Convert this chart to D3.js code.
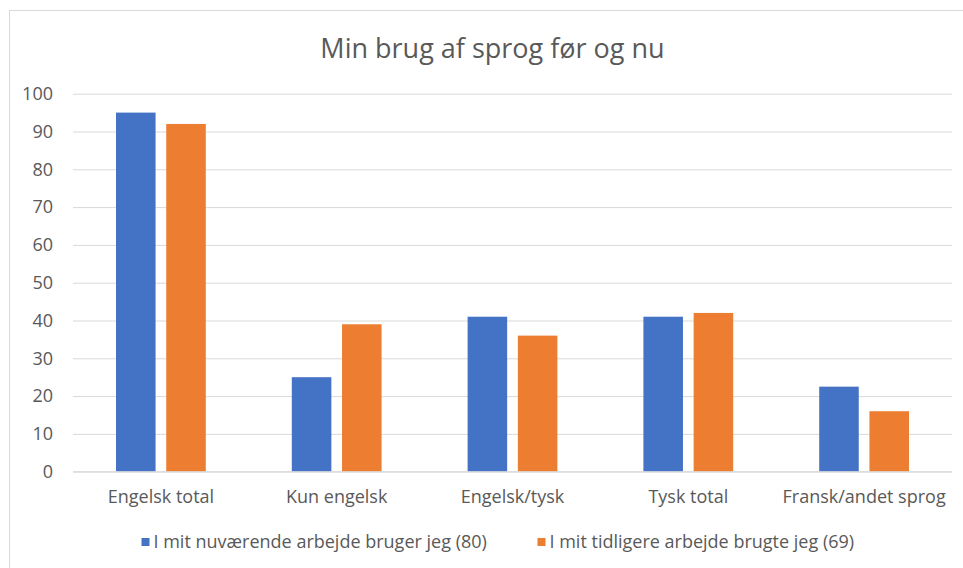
<!DOCTYPE html>
<html>
<head>
<meta charset="utf-8">
<script src="https://cdn.jsdelivr.net/npm/d3@7"></script>
<style>
  html, body { margin: 0; padding: 0; background: #fff; }
  svg { display: block; }
  text { font-family: "Open Sans", "Noto Sans", sans-serif; fill: #595959; }
</style>
</head>
<body>
<script>
const title = "Min brug af sprog før og nu";
const categories = ["Engelsk total", "Kun engelsk", "Engelsk/tysk", "Tysk total", "Fransk/andet sprog"];
const seriesNames = ["I mit nuværende arbejde bruger jeg (80)", "I mit tidligere arbejde brugte jeg (69)"];
const currentValues = [95, 25, 41, 41, 22.5];
const previousValues = [92, 39, 36, 42, 16];
const yTicks = [0, 10, 20, 30, 40, 50, 60, 70, 80, 90, 100];
const colors = ["#4472C4", "#ED7D31"];

const W = 963, H = 568;
const FONT = "'Open Sans', 'Noto Sans', sans-serif";
const svg = d3.select("body").append("svg").attr("width", W).attr("height", H);

// chart area border
svg.append("rect")
  .attr("x", 9.5).attr("y", 10.5)
  .attr("width", W + 20).attr("height", H + 20)
  .attr("fill", "none").attr("stroke", "#d9d9d9").attr("stroke-width", 1);

const plot = { left: 73, right: 952, top: 93.7, bottom: 471.7 };

const x0 = d3.scaleBand().domain(categories).range([plot.left, plot.right]).paddingInner(0).paddingOuter(0);
const y = d3.scaleLinear().domain([0, 100]).range([plot.bottom, plot.top]);

const barW = x0.bandwidth() * 0.225;
const gap = barW * 0.27;
const x1 = d3.scaleOrdinal().domain([0, 1]).range([-(gap / 2 + barW), gap / 2]);

// gridlines + y labels
const yAxis = d3.axisLeft(y).tickValues(yTicks).tickSize(-(plot.right - plot.left)).tickPadding(20);
const gy = svg.append("g").attr("transform", `translate(${plot.left},0)`).call(yAxis);
gy.select(".domain").remove();
gy.selectAll(".tick line").attr("stroke", "#d9d9d9").attr("stroke-width", 1);
gy.selectAll(".tick text").attr("font-size", 18).attr("fill", "#595959").style("font-family", FONT);

// bars
const series = [currentValues, previousValues];
series.forEach((vals, si) => {
  svg.append("g").selectAll("rect").data(vals).join("rect")
    .attr("x", (d, i) => x0(categories[i]) + x0.bandwidth() / 2 + x1(si))
    .attr("y", d => y(d))
    .attr("width", barW)
    .attr("height", d => y(0) - y(d))
    .attr("fill", colors[si]);
});

// x axis labels
const xAxis = d3.axisBottom(x0).tickSize(0).tickPadding(19);
const gx = svg.append("g").attr("transform", `translate(0,${plot.bottom})`).call(xAxis);
gx.select(".domain").remove();
gx.selectAll(".tick text").attr("font-size", 18).attr("fill", "#595959").style("font-family", FONT);

// zero line on top
svg.append("line").attr("x1", plot.left).attr("x2", plot.right)
  .attr("y1", y(0)).attr("y2", y(0)).attr("stroke", "#d9d9d9").attr("stroke-width", 1);

// title
svg.append("text").attr("x", 492.5).attr("y", 58).attr("text-anchor", "middle")
  .attr("font-size", 27).text(title);

// legend
const legendX = [141.5, 537.5];
seriesNames.forEach((name, i) => {
  const g = svg.append("g").attr("transform", `translate(${legendX[i]},538)`);
  g.append("rect").attr("width", 8).attr("height", 8).attr("fill", colors[i]);
  g.append("text").attr("x", 12).attr("y", 4).attr("dy", "0.35em")
    .attr("font-size", 18).text(name);
});
</script>
</body>
</html>
